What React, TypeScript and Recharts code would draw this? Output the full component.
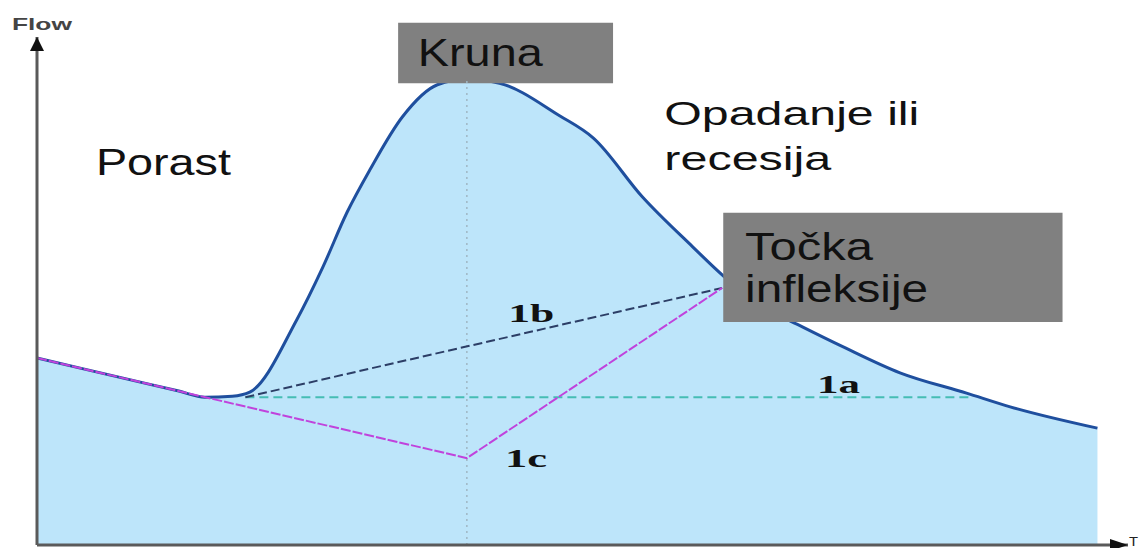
import React from "react";
import {
  ComposedChart,
  Area,
  Line,
  XAxis,
  YAxis,
  ReferenceArea,
  ReferenceDot,
  ReferenceLine,
} from "recharts";

// hydrograph: time (0-100) vs flow (0-100)
const TIME = [
  0, 7.7, 13.0, 15.4, 17.9, 19.5, 23.8, 26.2, 28.4, 30.5, 33.5, 36.7, 39.4,
  42.4, 47.9, 51.0, 55.5, 60.1, 62.9, 66.3, 70.2, 73.9, 79.1, 85.2, 89.2, 97.2,
];
const FLOW = [
  36.8, 32.95, 30.3, 29.1, 29.3, 30.1, 44.3, 54.7, 65.4, 73.8, 84.3, 90.6,
  91.7, 90.9, 84.5, 80.1, 68.5, 58.7, 53.0, 47.2, 42.9, 39.0, 33.9, 29.9, 27.2,
  23.0,
];

// baseflow separation lines
const LINE_1A_T = [19.1, 85.8];
const LINE_1A_Q = [29.1, 29.1];
const LINE_1B_T = [19.1, 62.8];
const LINE_1B_Q = [29.1, 50.6];
const LINE_1C_T = [0, 39.4, 62.8];
const LINE_1C_Q = [36.8, 17.1, 50.6];

const PEAK_T = 39.4;
const PEAK_Q = 91.7;

const hydro = TIME.map((t, i) => ({ t, q: FLOW[i] }));
const toRows = (ts: number[], qs: number[]) => ts.map((t, i) => ({ t, q: qs[i] }));

const SANS = "'Liberation Sans', Arial, sans-serif";
const SERIF = "'Liberation Serif', 'Times New Roman', serif";

function note(
  text: string,
  width: number,
  size: number,
  opts: { serif?: boolean; bold?: boolean; color?: string } = {}
) {
  return (p: any) => (
    <text
      x={p.cx}
      y={p.cy}
      fontFamily={opts.serif ? SERIF : SANS}
      fontWeight={opts.bold ? 700 : 400}
      fontSize={size}
      fill={opts.color ?? "#111"}
      textLength={width}
      lengthAdjust="spacingAndGlyphs"
    >
      {text}
    </text>
  );
}

const upArrow = (p: any) => (
  <polygon
    points={`${p.cx},${p.cy} ${p.cx - 7},${p.cy + 14} ${p.cx + 7},${p.cy + 14}`}
    fill="#111"
  />
);
const rightArrow = (p: any) => (
  <polygon
    points={`${p.cx},${p.cy} ${p.cx - 18},${p.cy - 6} ${p.cx - 18},${p.cy + 6}`}
    fill="#111"
  />
);

export default function App() {
  return (
    <div style={{ position: "absolute", left: 0, top: 0, background: "#fff" }}>
      <ComposedChart
        width={1140}
        height={548}
        margin={{ top: 37, right: 12, bottom: 0, left: 0 }}
      >
        <XAxis
          dataKey="t"
          type="number"
          domain={[0, 100]}
          allowDataOverflow
          tick={false}
          tickLine={false}
          height={3}
          axisLine={{ stroke: "#5a5a5a", strokeWidth: 3 }}
        />
        <YAxis
          type="number"
          domain={[0, 100]}
          allowDataOverflow
          tick={false}
          tickLine={false}
          width={37}
          axisLine={{ stroke: "#5a5a5a", strokeWidth: 3 }}
        />
        <Area
          data={hydro}
          dataKey="q"
          type="monotone"
          stroke="#1f4f9e"
          strokeWidth={3}
          fill="#bde5fa"
          fillOpacity={1}
          isAnimationActive={false}
        />
        <ReferenceLine
          segment={[
            { x: PEAK_T, y: 0 },
            { x: PEAK_T, y: PEAK_Q },
          ]}
          stroke="#9fb6c4"
          strokeDasharray="2 4"
          strokeWidth={1.5}
        />
        <Line
          data={toRows(LINE_1A_T, LINE_1A_Q)}
          dataKey="q"
          type="linear"
          stroke="#45bdb4"
          strokeWidth={2}
          strokeDasharray="9 5"
          dot={false}
          isAnimationActive={false}
        />
        <Line
          data={toRows(LINE_1B_T, LINE_1B_Q)}
          dataKey="q"
          type="linear"
          stroke="#2c3e66"
          strokeWidth={2}
          strokeDasharray="9 4"
          dot={false}
          isAnimationActive={false}
        />
        <Line
          data={toRows(LINE_1C_T, LINE_1C_Q)}
          dataKey="q"
          type="linear"
          stroke="#c043dc"
          strokeWidth={2}
          strokeDasharray="10 2"
          dot={false}
          isAnimationActive={false}
        />
        <ReferenceArea
          x1={33.1}
          x2={52.8}
          y1={90.9}
          y2={102.8}
          fill="#808080"
          fillOpacity={1}
          ifOverflow="visible"
        />
        <ReferenceArea
          x1={62.9}
          x2={94.0}
          y1={43.9}
          y2={65.4}
          fill="#808080"
          fillOpacity={1}
          ifOverflow="visible"
        />
        <ReferenceDot x={0} y={100} ifOverflow="visible" shape={upArrow} />
        <ReferenceDot x={100} y={0} ifOverflow="visible" shape={rightArrow} />
        <ReferenceDot x={-2.3} y={101.4} ifOverflow="visible" shape={note("Flow", 60, 17, { bold: true, color: "#444" })} />
        <ReferenceDot x={100.1} y={-0.1} ifOverflow="visible" shape={note("T", 9, 13, { color: "#222" })} />
        <ReferenceDot x={34.9} y={94.3} ifOverflow="visible" shape={note("Kruna", 125, 39)} />
        <ReferenceDot x={5.4} y={72.8} ifOverflow="visible" shape={note("Porast", 135, 37)} />
        <ReferenceDot x={57.5} y={82.7} ifOverflow="visible" shape={note("Opadanje ili", 255, 33)} />
        <ReferenceDot x={57.5} y={73.8} ifOverflow="visible" shape={note("recesija", 167, 33)} />
        <ReferenceDot x={64.9} y={56.1} ifOverflow="visible" shape={note("Točka", 128, 39)} />
        <ReferenceDot x={64.9} y={47.8} ifOverflow="visible" shape={note("infleksije", 183, 39)} />
        <ReferenceDot x={43.2} y={43.9} ifOverflow="visible" shape={note("1b", 46, 25, { serif: true, bold: true })} />
        <ReferenceDot x={42.9} y={15.4} ifOverflow="visible" shape={note("1c", 42, 25, { serif: true, bold: true })} />
        <ReferenceDot x={71.5} y={29.9} ifOverflow="visible" shape={note("1a", 43, 25, { serif: true, bold: true })} />
      </ComposedChart>
    </div>
  );
}
